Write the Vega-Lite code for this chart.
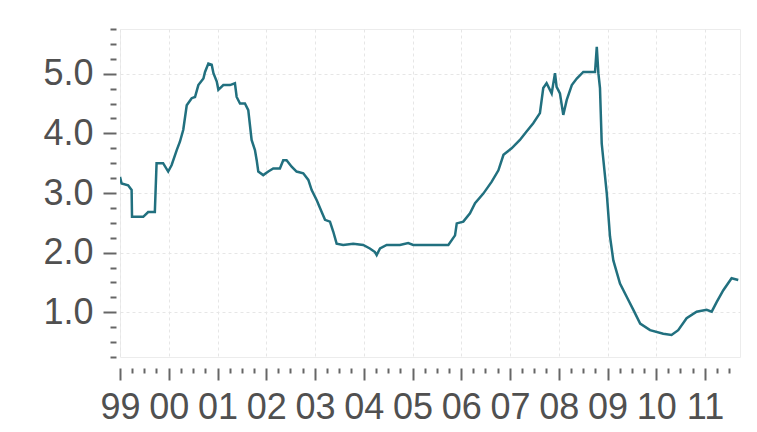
{
  "$schema": "https://vega.github.io/schema/vega-lite/v6.json",
  "width": 620,
  "height": 328,
  "autosize": {"type": "none"},
  "padding": {"left": 120, "top": 29, "right": 17, "bottom": 75},
  "background": "white",
  "config": {"view": {"stroke": "#ececec", "strokeWidth": 1}, "font": "Liberation Sans"},
  "data": {"values": [
    {"date": "1999-01-01", "value": 3.27},
    {"date": "1999-01-13", "value": 3.16},
    {"date": "1999-03-03", "value": 3.13},
    {"date": "1999-03-29", "value": 3.05},
    {"date": "1999-04-01", "value": 2.6},
    {"date": "1999-06-24", "value": 2.6},
    {"date": "1999-07-31", "value": 2.68},
    {"date": "1999-09-19", "value": 2.68},
    {"date": "1999-10-02", "value": 3.5},
    {"date": "1999-11-20", "value": 3.5},
    {"date": "1999-12-28", "value": 3.36},
    {"date": "2000-01-23", "value": 3.47},
    {"date": "2000-03-01", "value": 3.72},
    {"date": "2000-03-25", "value": 3.86},
    {"date": "2000-04-19", "value": 4.06},
    {"date": "2000-05-15", "value": 4.47},
    {"date": "2000-06-21", "value": 4.59},
    {"date": "2000-07-16", "value": 4.61},
    {"date": "2000-08-10", "value": 4.81},
    {"date": "2000-09-17", "value": 4.92},
    {"date": "2000-09-29", "value": 5.03},
    {"date": "2000-10-24", "value": 5.17},
    {"date": "2000-11-18", "value": 5.15},
    {"date": "2000-12-01", "value": 5.01},
    {"date": "2000-12-26", "value": 4.87},
    {"date": "2001-01-07", "value": 4.73},
    {"date": "2001-02-13", "value": 4.81},
    {"date": "2001-04-04", "value": 4.81},
    {"date": "2001-05-11", "value": 4.84},
    {"date": "2001-05-24", "value": 4.61},
    {"date": "2001-06-18", "value": 4.5},
    {"date": "2001-07-25", "value": 4.5},
    {"date": "2001-08-19", "value": 4.39},
    {"date": "2001-09-13", "value": 3.89},
    {"date": "2001-10-08", "value": 3.72},
    {"date": "2001-10-21", "value": 3.55},
    {"date": "2001-11-02", "value": 3.36},
    {"date": "2001-12-09", "value": 3.3},
    {"date": "2002-01-16", "value": 3.36},
    {"date": "2002-02-22", "value": 3.41},
    {"date": "2002-04-13", "value": 3.41},
    {"date": "2002-05-08", "value": 3.55},
    {"date": "2002-06-02", "value": 3.55},
    {"date": "2002-07-10", "value": 3.44},
    {"date": "2002-08-16", "value": 3.36},
    {"date": "2002-10-05", "value": 3.33},
    {"date": "2002-11-12", "value": 3.22},
    {"date": "2002-12-07", "value": 3.05},
    {"date": "2003-01-14", "value": 2.88},
    {"date": "2003-02-20", "value": 2.68},
    {"date": "2003-03-17", "value": 2.55},
    {"date": "2003-04-23", "value": 2.52},
    {"date": "2003-05-18", "value": 2.35},
    {"date": "2003-06-12", "value": 2.15},
    {"date": "2003-07-31", "value": 2.13},
    {"date": "2003-10-14", "value": 2.15},
    {"date": "2003-12-28", "value": 2.13},
    {"date": "2004-02-16", "value": 2.07},
    {"date": "2004-03-25", "value": 2.01},
    {"date": "2004-04-07", "value": 1.96},
    {"date": "2004-05-02", "value": 2.07},
    {"date": "2004-06-21", "value": 2.13},
    {"date": "2004-09-28", "value": 2.13},
    {"date": "2004-11-29", "value": 2.16},
    {"date": "2005-01-06", "value": 2.13},
    {"date": "2005-05-11", "value": 2.13},
    {"date": "2005-09-26", "value": 2.13},
    {"date": "2005-11-15", "value": 2.29},
    {"date": "2005-11-28", "value": 2.49},
    {"date": "2006-01-16", "value": 2.52},
    {"date": "2006-03-07", "value": 2.66},
    {"date": "2006-04-14", "value": 2.83},
    {"date": "2006-06-15", "value": 2.99},
    {"date": "2006-08-17", "value": 3.19},
    {"date": "2006-10-06", "value": 3.38},
    {"date": "2006-11-13", "value": 3.64},
    {"date": "2007-01-13", "value": 3.75},
    {"date": "2007-03-16", "value": 3.89},
    {"date": "2007-05-05", "value": 4.03},
    {"date": "2007-06-24", "value": 4.17},
    {"date": "2007-08-13", "value": 4.34},
    {"date": "2007-09-07", "value": 4.76},
    {"date": "2007-10-02", "value": 4.84},
    {"date": "2007-11-09", "value": 4.67},
    {"date": "2007-12-04", "value": 5.01},
    {"date": "2007-12-16", "value": 4.78},
    {"date": "2008-01-10", "value": 4.67},
    {"date": "2008-02-04", "value": 4.31},
    {"date": "2008-03-01", "value": 4.56},
    {"date": "2008-04-08", "value": 4.81},
    {"date": "2008-05-15", "value": 4.92},
    {"date": "2008-07-03", "value": 5.03},
    {"date": "2008-09-29", "value": 5.03},
    {"date": "2008-10-12", "value": 5.45},
    {"date": "2008-10-24", "value": 5.01},
    {"date": "2008-11-05", "value": 4.76},
    {"date": "2008-11-18", "value": 3.83},
    {"date": "2008-12-26", "value": 2.99},
    {"date": "2009-01-19", "value": 2.27},
    {"date": "2009-02-13", "value": 1.87},
    {"date": "2009-04-04", "value": 1.48},
    {"date": "2009-05-24", "value": 1.26},
    {"date": "2009-07-13", "value": 1.04},
    {"date": "2009-09-02", "value": 0.81},
    {"date": "2009-11-15", "value": 0.7},
    {"date": "2010-02-22", "value": 0.64},
    {"date": "2010-04-25", "value": 0.62},
    {"date": "2010-06-14", "value": 0.7},
    {"date": "2010-08-16", "value": 0.9},
    {"date": "2010-10-30", "value": 1.01},
    {"date": "2011-01-13", "value": 1.04},
    {"date": "2011-02-20", "value": 1.01},
    {"date": "2011-03-29", "value": 1.17},
    {"date": "2011-05-18", "value": 1.37},
    {"date": "2011-07-19", "value": 1.57},
    {"date": "2011-09-07", "value": 1.54}
  ]},
  "mark": {"type": "line", "color": "#21707f", "strokeWidth": 2.5, "clip": true},
  "encoding": {
    "x": {
      "field": "date",
      "type": "temporal",
      "scale": {
        "type": "utc",
        "domain": [
          {"year": 1999, "month": 1, "date": 1, "utc": true},
          {"year": 2011, "month": 9, "date": 20, "utc": true}
        ]
      },
      "axis": {
        "title": null,
        "orient": "bottom",
        "offset": 11,
        "domain": false,
        "tickCount": {"interval": "month", "step": 3},
        "tickSize": {"condition": {"test": "utcmonth(datum.value) == 0", "value": 12}, "value": 5},
        "tickColor": "#666666",
        "tickWidth": 2,
        "labelExpr": "utcmonth(datum.value) == 0 ? utcFormat(datum.value, '%y') : ''",
        "labelFontSize": 36,
        "labelColor": "#505050",
        "labelPadding": 10,
        "labelOverlap": false,
        "labelFlush": false,
        "labelBound": false,
        "grid": true,
        "gridColor": "#e6e6e6",
        "gridDash": [3, 3],
        "gridOpacity": {"condition": {"test": "utcmonth(datum.value) == 0", "value": 1}, "value": 0}
      }
    },
    "y": {
      "field": "value",
      "type": "quantitative",
      "scale": {"domain": [0.25, 5.75], "nice": false, "zero": false},
      "axis": {
        "title": null,
        "offset": 4,
        "domain": false,
        "values": [0.25, 0.5, 0.75, 1, 1.25, 1.5, 1.75, 2, 2.25, 2.5, 2.75, 3, 3.25, 3.5, 3.75, 4, 4.25, 4.5, 4.75, 5, 5.25, 5.5, 5.75],
        "tickSize": {"condition": {"test": "datum.value % 1 == 0", "value": 13}, "value": 6},
        "tickColor": "#666666",
        "tickWidth": 2,
        "labelExpr": "datum.value % 1 == 0 ? format(datum.value, '.1f') : ''",
        "labelFontSize": 36,
        "labelColor": "#505050",
        "labelPadding": 10,
        "labelOverlap": false,
        "labelBound": false,
        "grid": true,
        "gridColor": "#e6e6e6",
        "gridDash": [3, 3],
        "gridOpacity": {"condition": {"test": "datum.value % 1 == 0", "value": 1}, "value": 0}
      }
    }
  }
}
